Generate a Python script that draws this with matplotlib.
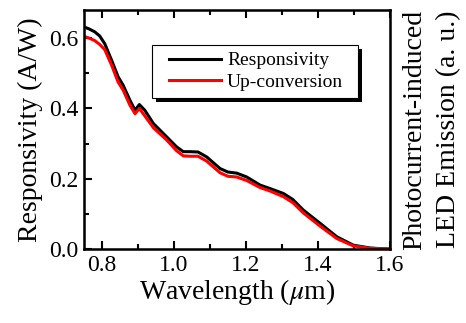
import matplotlib
matplotlib.use('Agg')
import matplotlib.pyplot as plt
from matplotlib.patches import Rectangle
from matplotlib.ticker import MultipleLocator

plt.rcParams['font.family'] = ['Liberation Serif', 'DejaVu Serif']
plt.rcParams['mathtext.fontset'] = 'stix'

# values
wavelength = [0.75, 0.765, 0.78, 0.794, 0.808, 0.827, 0.845, 0.859, 0.878, 0.892,
              0.904, 0.919, 0.943, 0.98, 1.007, 1.026, 1.045, 1.067, 1.091, 1.128,
              1.15, 1.174, 1.202, 1.239, 1.267, 1.304, 1.33, 1.359, 1.406, 1.452,
              1.498, 1.544, 1.575, 1.60]
responsivity = [0.632, 0.626, 0.618, 0.606, 0.584, 0.537, 0.490, 0.466, 0.423, 0.395,
                0.411, 0.395, 0.357, 0.319, 0.291, 0.277, 0.277, 0.276, 0.262, 0.229,
                0.219, 0.216, 0.205, 0.182, 0.172, 0.158, 0.141, 0.111, 0.073, 0.035,
                0.011, 0.003, 0.001, 0.0]
upconversion = [0.605, 0.600, 0.593, 0.582, 0.567, 0.523, 0.475, 0.452, 0.409, 0.385,
                0.400, 0.379, 0.345, 0.310, 0.280, 0.265, 0.264, 0.264, 0.250, 0.217,
                0.207, 0.205, 0.195, 0.175, 0.165, 0.149, 0.132, 0.103, 0.065, 0.030,
                0.009, 0.002, 0.001, 0.0]

fig = plt.figure(figsize=(4.66, 3.23), dpi=100)
ax = fig.add_axes([0.180, 0.229, 0.657, 0.740])

ax.plot(wavelength, responsivity, color='black', lw=2.2, label='Responsivity')
ax.plot(wavelength, upconversion, color='red', lw=2.2, label='Up-conversion')

ax.set_xlim(0.75, 1.6)
ax.set_ylim(0, 0.68)
ax.xaxis.set_major_locator(MultipleLocator(0.2))
ax.xaxis.set_minor_locator(MultipleLocator(0.1))
ax.yaxis.set_major_locator(MultipleLocator(0.2))
ax.yaxis.set_minor_locator(MultipleLocator(0.1))
ax.xaxis.set_major_formatter(plt.FormatStrFormatter('%.1f'))
ax.yaxis.set_major_formatter(plt.FormatStrFormatter('%.1f'))
ax.tick_params(which='both', direction='in', top=True, right=True, width=1.5,
               labelsize=17, pad=4)
ax.tick_params(which='major', length=6)
ax.tick_params(which='minor', length=3.5)
for s in ax.spines.values():
    s.set_linewidth(1.8)

ax.set_xlabel(r'Wavelength ($\mu$m)', fontsize=20, labelpad=1)
ax.set_ylabel('Responsivity (A/W)', fontsize=20, labelpad=4)

ax2 = ax.twinx()
ax2.set_ylim(0, 0.68)
ax2.set_yticks([])
ax2.set_ylabel('Photocurrent-induced\nLED Emission (a. u.)', fontsize=20,
               linespacing=1.45, labelpad=9)

# legend box with a solid drop shadow (drawn by hand, legend itself frameless)
ax2.add_patch(Rectangle((0.235, 0.615), 0.673, 0.222, transform=ax.transAxes,
                        facecolor='black', edgecolor='none', zorder=4.4))
ax2.add_patch(Rectangle((0.222, 0.632), 0.673, 0.222, transform=ax.transAxes,
                        facecolor='white', edgecolor='black', lw=0.8, zorder=4.5))
leg = ax2.legend(*ax.get_legend_handles_labels(),
                 loc='upper right', bbox_to_anchor=(0.869, 0.854), fontsize=14,
                 frameon=False, handlelength=2.7, borderpad=0.35, labelspacing=0.2,
                 handletextpad=0.3, borderaxespad=0)

fig.savefig('out.png', dpi=100)
